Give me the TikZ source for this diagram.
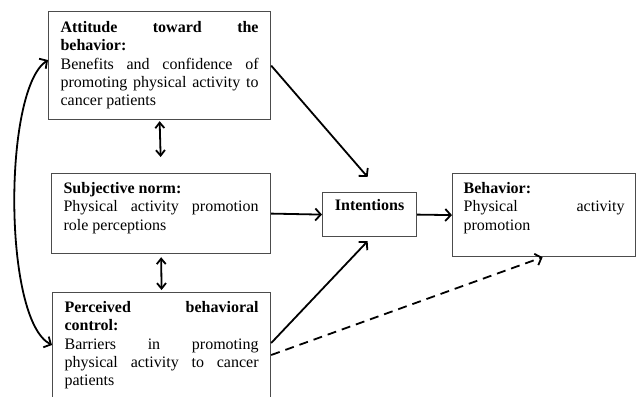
\documentclass[tikz,border=0pt]{standalone}
\usepackage{fontspec}
\setmainfont{Liberation Serif}
\usetikzlibrary{arrows.meta}
\tolerance=10000
\hbadness=10000
\hyphenpenalty=10000

\begin{document}
\begin{tikzpicture}[x=1pt,y=-1pt,>={Straight Barb[length=5.5pt,width=12pt]}]
    % `factor' is used for the text boxes, `hub' for the small middle box.
    % `link' is used for the arrows, `twin' for the short two-headed ones.
    \tikzstyle{factor} = [draw=black!70,line width=1.2pt,anchor=north west,inner xsep=12pt,inner ysep=0pt,align=justify,font=\fontsize{16pt}{18.3pt}\selectfont]
    \tikzstyle{hub} = [draw=black!70,line width=1.2pt,anchor=north west,inner xsep=0pt,inner ysep=0pt,minimum width=94pt,font=\fontsize{16pt}{18.3pt}\selectfont\bfseries]
    \tikzstyle{link} = [->,line width=1.8pt]
    \tikzstyle{twin} = [{Straight Barb[length=5.5pt,width=9pt]}-{Straight Barb[length=5.5pt,width=9pt]},line width=1.8pt]
    %
    \useasboundingbox (0,0) rectangle (636,396);
    \node[factor,text width=198pt,text height=21pt,text depth=87pt] (att) at (48,11)
      {\textbf{Attitude toward the\linebreak behavior:}\par
       Benefits and confidence of\linebreak promoting physical activity to\linebreak cancer patients};
    \node[factor,text width=195pt,text height=20pt,text depth=60pt] (subj) at (51,173)
      {\textbf{Subjective norm:}\par
       Physical activity promotion\linebreak role perceptions};
    \node[factor,text width=194pt,text height=20pt,text depth=110pt] (perc) at (52,292)
      {\textbf{Perceived behavioral\linebreak control:}\par
       Barriers in promoting\linebreak physical activity to cancer\linebreak patients};
    \node[hub,text height=18pt,text depth=26pt] (intent) at (322,192) {Intentions};
    \node[factor,inner xsep=11pt,text width=161pt,text height=20pt,text depth=63pt] (behav) at (452,173)
      {\textbf{Behavior:}\par
       Physical activity\linebreak promotion};
    %
    % Draw arrows.
    \draw[link] (att.east) -- ([xshift=-2pt,yshift=15pt]intent.north);
    \draw[link] (subj.east) -- (intent.west);
    \draw[link] (intent.east) -- (behav.west);
    \draw[link] ([yshift=-51pt]perc.north east) -- ([xshift=-2pt,yshift=-4pt]intent.south);
    \draw[link,dash pattern=on 9pt off 6pt] ([yshift=-63pt]perc.north east) -- ([xshift=-1.5pt]behav.south);
    \draw[twin,shorten <=1pt,shorten >=16pt] (att.south) -- (subj.north);
    \draw[twin,shorten <=3pt,shorten >=2pt] (subj.south) -- (perc.north);
    \draw[link,<->] ([yshift=-49pt]att.north west) .. controls (3,90) and (3,320) .. ([yshift=-53pt]perc.north west);
\end{tikzpicture}
\end{document}
